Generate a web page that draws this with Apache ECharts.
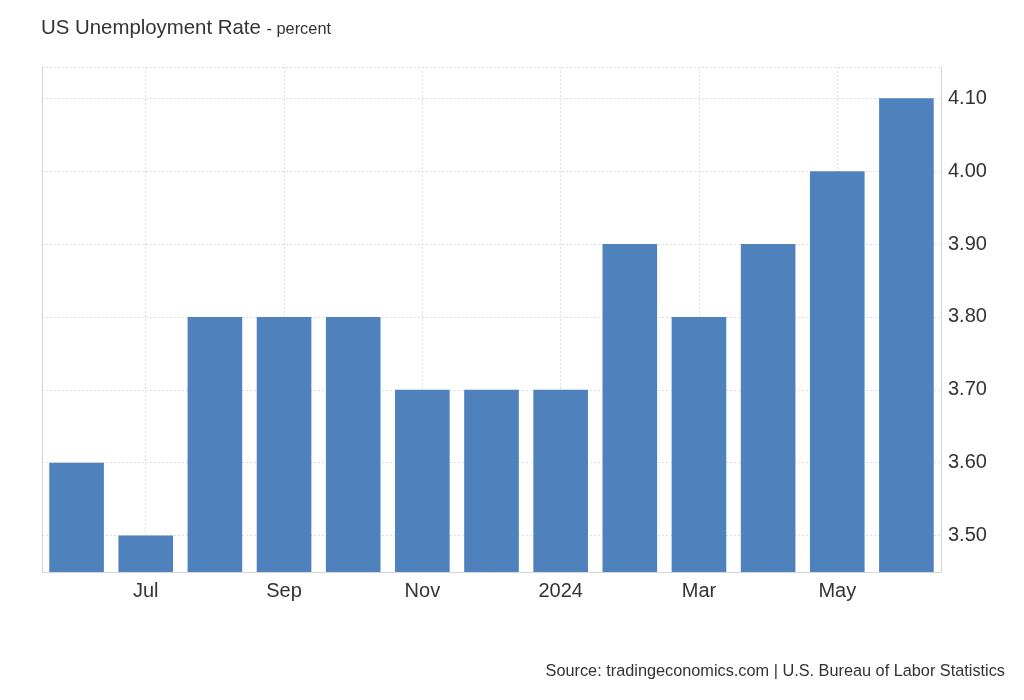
<!DOCTYPE html>
<html>
<head>
<meta charset="utf-8">
<script src="https://cdn.jsdelivr.net/npm/echarts@6/dist/echarts.min.js"></script>
<style>
html,body{margin:0;padding:0;background:#fff;}
#chart{width:1024px;height:700px;}
</style>
</head>
<body>
<div id="chart"></div>
<script>
// Data (Jun 2023 - Jun 2024)
const categories = ['Jun','Jul','Aug','Sep','Oct','Nov','Dec','2024','Feb','Mar','Apr','May','Jun'];
const values = [3.6, 3.5, 3.8, 3.8, 3.8, 3.7, 3.7, 3.7, 3.9, 3.8, 3.9, 4.0, 4.1];
const yTickLabels = [3.5, 3.6, 3.7, 3.8, 3.9, 4.0, 4.1];
const yMin = 3.45, yMax = 4.143;

const font = "'Liberation Sans', Arial, sans-serif";
const gridColor = '#dedede';
const axisColor = '#d4d4d4';

// split line colors: show only at 0.1 labels, plus top border
const stepCount = Math.round((4.10 - yMin) / 0.05) + 2;
const splitColors = [];
for (let i = 0; i < stepCount; i++) {
  const v = yMin + i * 0.05;
  const isLabel = yTickLabels.some(t => Math.abs(t - v) < 1e-6);
  splitColors.push(isLabel || i === stepCount - 1 ? gridColor : 'rgba(0,0,0,0)');
}

const chart = echarts.init(document.getElementById('chart'), null, {renderer: 'canvas'});
chart.setOption({
  animation: false,
  backgroundColor: '#fff',
  textStyle: {fontFamily: font},
  title: [{
    left: 41, top: 18, padding: 0,
    text: '{a|US Unemployment Rate}{b| - percent}',
    textStyle: {
      fontWeight: 'normal',
      rich: {
        a: {fontSize: 20.4, color: '#333', fontWeight: 'normal', fontFamily: font},
        b: {fontSize: 16.4, color: '#333', fontWeight: 'normal', fontFamily: font, padding: [3, 0, 0, 1]}
      }
    }
  }, {
    right: 19, top: 664, padding: 0,
    text: 'Source: tradingeconomics.com | U.S. Bureau of Labor Statistics',
    textStyle: {fontSize: 16.3, fontWeight: 'normal', color: '#333', fontFamily: font}
  }],
  grid: {left: 42, right: 83, top: 67, bottom: 128, containLabel: false},
  xAxis: {
    type: 'category',
    data: categories,
    boundaryGap: true,
    axisLine: {show: true, lineStyle: {color: axisColor, width: 1}},
    axisTick: {show: false},
    axisLabel: {
      interval: (i) => i % 2 === 1,
      color: '#333', fontSize: 20, margin: 9, fontFamily: font
    },
    splitLine: {
      show: true,
      alignWithLabel: true,
      interval: (i) => i % 2 === 1,
      lineStyle: {color: gridColor, type: [2, 2], width: 1}
    }
  },
  yAxis: [{
    type: 'value',
    position: 'right',
    min: yMin, max: yMax, interval: 0.05,
    axisLine: {show: true, lineStyle: {color: axisColor, width: 1}},
    axisTick: {show: false},
    axisLabel: {
      color: '#333', fontSize: 20, margin: 7, fontFamily: font,
      formatter: (v) => yTickLabels.some(t => Math.abs(t - v) < 1e-6) ? v.toFixed(2) : ''
    },
    splitLine: {show: true, lineStyle: {color: splitColors, type: [2, 2], width: 1}}
  }, {
    type: 'value',
    position: 'left',
    min: yMin, max: yMax,
    axisLine: {show: true, lineStyle: {color: axisColor, width: 1}},
    axisTick: {show: false},
    axisLabel: {show: false},
    splitLine: {show: false}
  }],
  series: [{
    type: 'bar',
    data: values,
    barWidth: '79%',
    itemStyle: {color: '#4f81bd'},
    silent: true
  }]
});
</script>
</body>
</html>
